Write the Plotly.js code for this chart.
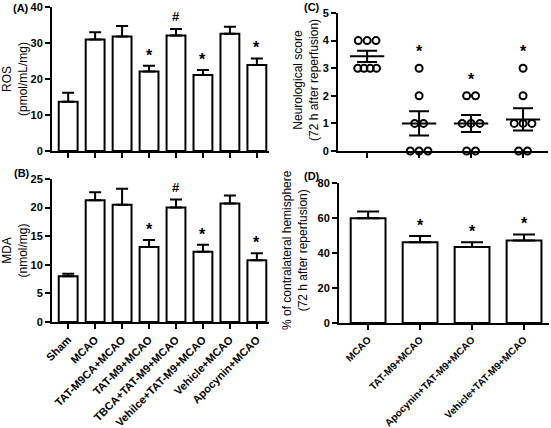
<!DOCTYPE html>
<html><head><meta charset="utf-8">
<script src="https://cdn.plot.ly/plotly-3.0.1.min.js"></script>
<style>html,body{margin:0;padding:0;background:#fff}#chart{width:551px;height:428px}</style>
</head><body><div id="chart"></div>
<script>
// ---- data ----
const groupsAB = ["Sham","MCAO","TAT-M9CA+MCAO","TAT-M9+MCAO","TBCA+TAT-M9+MCAO","Vehilce+TAT-M9+MCAO","Vehicle+MCAO","Apocynin+MCAO"];
const rosMean = [13.7,31.0,31.8,22.1,32.1,21.1,32.6,23.9];
const rosSem  = [2.5,2.0,2.9,1.6,1.8,1.4,1.9,1.8];
const mdaMean = [8.0,21.3,20.5,13.1,20.0,12.3,20.7,10.8];
const mdaSem  = [0.45,1.4,2.8,1.25,1.4,1.2,1.4,1.2];
const sigAB   = ["","","","*","#","*","","*"];
const groupsCD = ["MCAO","TAT-M9+MCAO","Apocynin+TAT-M9+MCAO","Vehicle+TAT-M9+MCAO"];
const neuroScores = [[4,4,4,3,3,3,3],[3,2,1,1,0,0,0],[2,2,1,1,1,0,0],[3,2,1,1,1,0,0]];
const infarctMean = [59.8,46.2,43.4,47.2];
const infarctSem  = [3.9,3.5,2.8,3.4];
const sigC = ["","*","*","*"];
const sigD = ["","*","*","*"];
const ticksA = [0,10,20,30,40];
const ticksB = [0,5,10,15,20,25];
const ticksC = [0,1,2,3,4,5];
const ticksD = [0,20,40,60,80];

// ---- helpers ----
const W = 551, H = 428;
const FONT = "Liberation Sans, Arial, sans-serif";
const fx = p => p / W, fy = p => 1 - p / H;
const idxAB = groupsAB.map((_, i) => i);
const idxCD = groupsCD.map((_, i) => i);
const mean = a => a.reduce((s, v) => s + v, 0) / a.length;
const sem = a => { const m = mean(a); return Math.sqrt(a.reduce((s, v) => s + (v - m) ** 2, 0) / (a.length - 1)) / Math.sqrt(a.length); };

const axisBase = {
  showline: true, linecolor: "#000", linewidth: 2, mirror: false,
  ticks: "outside", ticklen: 5, tickwidth: 2, tickcolor: "#000",
  showgrid: false, zeroline: false, fixedrange: true,
  tickfont: {family: FONT, size: 11, color: "#000", weight: "bold"}
};
const titleFont = {family: FONT, size: 12, color: "#000"};

const barStyle = {color: "#fff", line: {color: "#000", width: 2}};
const errUp = (arr, w) => ({type: "data", array: arr, arrayminus: arr.map(() => 0), symmetric: false, color: "#000", thickness: 2, width: w});

const traces = [];
traces.push({type: "bar", x: idxAB, y: rosMean, width: 0.7, marker: barStyle, error_y: errUp(rosSem, 6), xaxis: "x", yaxis: "y", hoverinfo: "skip"});
traces.push({type: "bar", x: idxAB, y: mdaMean, width: 0.7, marker: barStyle, error_y: errUp(mdaSem, 6), xaxis: "x2", yaxis: "y2", hoverinfo: "skip"});
traces.push({type: "bar", x: idxCD, y: infarctMean, width: 0.67, marker: barStyle, error_y: errUp(infarctSem, 11), xaxis: "x4", yaxis: "y4", hoverinfo: "skip"});

// panel C scatter
const neuroMeans = neuroScores.map(mean);
const neuroSems = neuroScores.map(sem);
neuroScores.forEach((grp, g) => {
  const counts = {};
  grp.forEach(v => counts[v] = (counts[v] || 0) + 1);
  const seen = {};
  const xs = [], ys = [];
  grp.forEach(v => {
    const n = counts[v];
    const k = seen[v] = (seen[v] === undefined ? 0 : seen[v] + 1);
    const s = n > 3 ? 0.12 : 0.17;
    xs.push(g + (k - (n - 1) / 2) * s);
    ys.push(v);
  });
  traces.push({type: "scatter", mode: "markers", x: xs, y: ys, xaxis: "x3", yaxis: "y3",
    marker: {symbol: "circle-open", size: 7, color: "#000", line: {width: 2, color: "#000"}}, hoverinfo: "skip", cliponaxis: false});
  traces.push({type: "scatter", mode: "lines", x: [g - 0.33, g + 0.33], y: [neuroMeans[g], neuroMeans[g]],
    xaxis: "x3", yaxis: "y3", line: {color: "#000", width: 2}, hoverinfo: "skip"});
});
traces.push({type: "scatter", mode: "markers", x: idxCD, y: neuroMeans, xaxis: "x3", yaxis: "y3",
  marker: {size: 1, opacity: 0}, error_y: {type: "data", array: neuroSems, color: "#000", thickness: 2, width: 10}, hoverinfo: "skip"});

// annotations
const ann = [];
const addSig = (labels, ys, xref, yref, shiftStar, shiftHash) => {
  labels.forEach((t, i) => {
    if (!t) return;
    ann.push({x: i, y: ys[i], xref, yref, text: t, showarrow: false, yanchor: "bottom",
      yshift: t === "*" ? shiftStar : shiftHash,
      font: {family: FONT, size: t === "*" ? 16 : 13, color: "#000", weight: "bold"}});
  });
};
addSig(sigAB, rosMean.map((m, i) => m + rosSem[i]), "x", "y", 0, 3);
addSig(sigAB, mdaMean.map((m, i) => m + mdaSem[i]), "x2", "y2", 0, 3);
addSig(sigD, infarctMean.map((m, i) => m + infarctSem[i]), "x4", "y4", 0, 3);
addSig(sigC, neuroScores.map(g => Math.max(...g)), "x3", "y3", 6, 3);

const panelLabel = (t, x, y) => ann.push({x: fx(x), y: fy(y), xref: "paper", yref: "paper", text: t, showarrow: false,
  xanchor: "left", yanchor: "middle", font: {family: FONT, size: 11, color: "#000", weight: "bold"}});
panelLabel("(A)", 11, 8);
panelLabel("(B)", 12, 173);
panelLabel("(C)", 302, 7);
panelLabel("(D)", 302, 176);

const sideTitle = (t, x, y) => ann.push({x: fx(x), y: fy(y), xref: "paper", yref: "paper", text: t, showarrow: false,
  textangle: -90, xanchor: "center", yanchor: "middle", font: titleFont});
sideTitle("Neurological score<br>(72 h after reperfusion)", 306, 80);
sideTitle("% of contralateral hemisphere<br>(72 h after reperfusion)", 295, 250);

const layout = {
  width: W, height: H, margin: {l: 0, r: 0, t: 0, b: 0},
  paper_bgcolor: "#fff", plot_bgcolor: "#fff", showlegend: false, bargap: 0,
  font: {family: FONT, color: "#000"},
  xaxis: Object.assign({}, axisBase, {domain: [fx(52), fx(269)], range: [-0.6, 7.45], tickvals: idxAB, ticktext: groupsAB, showticklabels: false, anchor: "y"}),
  yaxis: Object.assign({}, axisBase, {domain: [fy(151), fy(7)], range: [0, 40], tickvals: ticksA, anchor: "x",
    title: {text: "ROS<br>(pmol/mL/mg)", font: titleFont, standoff: 4}}),
  xaxis2: Object.assign({}, axisBase, {domain: [fx(52), fx(269)], range: [-0.6, 7.45], tickvals: idxAB, ticktext: groupsAB, tickangle: -45, anchor: "y2"}),
  yaxis2: Object.assign({}, axisBase, {domain: [fy(322), fy(179)], range: [0, 25], tickvals: ticksB, anchor: "x2",
    title: {text: "MDA<br>(nmol/mg)", font: titleFont, standoff: 10}}),
  xaxis3: Object.assign({}, axisBase, {domain: [fx(338), fx(548)], range: [-0.56, 3.48], tickvals: idxCD, ticktext: groupsCD, showticklabels: false, anchor: "y3"}),
  yaxis3: Object.assign({}, axisBase, {domain: [fy(151), fy(13)], range: [0, 5], tickvals: ticksC, anchor: "x3"}),
  xaxis4: Object.assign({}, axisBase, {domain: [fx(339), fx(549)], range: [-0.56, 3.48], tickvals: idxCD, ticktext: groupsCD, tickangle: -45, anchor: "y4",
    tickfont: {family: FONT, size: 10, color: "#000", weight: "bold"}}),
  yaxis4: Object.assign({}, axisBase, {domain: [fy(323), fy(183)], range: [0, 80], tickvals: ticksD, anchor: "x4"}),
  annotations: ann
};
Plotly.newPlot("chart", traces, layout, {displayModeBar: false, staticPlot: true});
</script>
</body></html>
